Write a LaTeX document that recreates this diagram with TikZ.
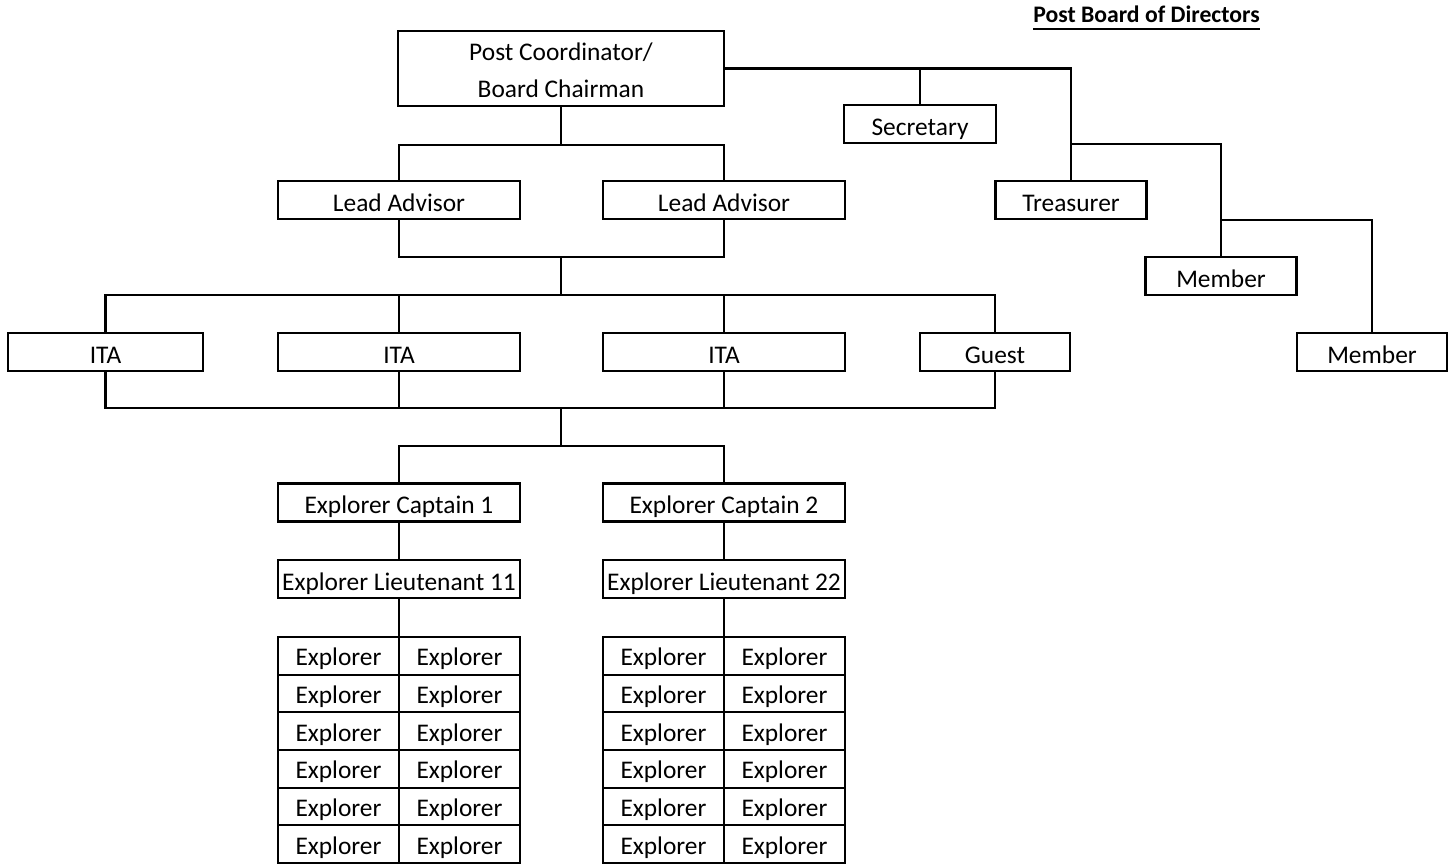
\documentclass[tikz,border=0pt]{standalone}
\usepackage{fontspec}
\setmainfont{Carlito}
\begin{document}
\begin{tikzpicture}[x=1pt,y=-1pt,
  every node/.style={font=\fontsize{25.4}{30}\selectfont},
  box/.style={draw=black,line width=2.2pt,inner sep=0pt,text height=24pt,text depth=2pt,minimum height=38pt},
  cell/.style={draw=black,line width=2.2pt,inner sep=0pt,text height=22pt,text depth=2pt,minimum height=37.67pt,minimum width=121pt},
  conn/.style={line width=2.2pt}]
\fill[white] (0,0) rectangle (1453,867);
\useasboundingbox (0,0) rectangle (1453,867);

% title
\node[font=\bfseries\fontsize{23.7}{28}\selectfont,inner sep=0pt,anchor=base] (title) at (1146.5,23) {Post Board of Directors};
\draw[line width=2.4pt] ([yshift=-6pt]title.base west) -- ([yshift=-6pt]title.base east);

% boxes
\node[draw=black,line width=2.2pt,inner sep=0pt,minimum width=326pt,minimum height=75pt,align=center,font=\fontsize{25.4}{37}\selectfont] (pc) at (561,68.5) {\rule{0pt}{22pt}Post Coordinator/\\Board Chairman};
\node[box,minimum width=152pt] (sec) at (920,124) {Secretary};
\node[box,minimum width=151pt] (tre) at (1071,200) {Treasurer};
\node[box,minimum width=151pt] (mem1) at (1221,276) {Member};
\node[box,minimum width=150pt] (mem2) at (1372,352) {Member};

\node[box,minimum width=242pt] (la1) at (399,200) {Lead Advisor};
\node[box,minimum width=242pt] (la2) at (724,200) {Lead Advisor};

\node[box,minimum width=195pt] (ita1) at (105.5,352) {ITA};
\node[box,minimum width=242pt] (ita2) at (399,352) {ITA};
\node[box,minimum width=242pt] (ita3) at (724,352) {ITA};
\node[box,minimum width=150pt] (guest) at (995,352) {Guest};

\node[box,minimum width=242pt] (cap1) at (399,502.5) {Explorer Captain 1};
\node[box,minimum width=242pt] (cap2) at (724,502.5) {Explorer Captain 2};
\node[box,minimum width=242pt] (lt1) at (399,579) {Explorer Lieutenant 11};
\node[box,minimum width=242pt] (lt2) at (724,579) {Explorer Lieutenant 22};

% explorer grids
\foreach \r in {1,...,6}{
  \node[cell] (gL-\r-1) at (338.5,{655.83+(\r-1)*37.67}) {Explorer};
  \node[cell] (gL-\r-2) at (459.5,{655.83+(\r-1)*37.67}) {Explorer};
  \node[cell] (gR-\r-1) at (663.5,{655.83+(\r-1)*37.67}) {Explorer};
  \node[cell] (gR-\r-2) at (784.5,{655.83+(\r-1)*37.67}) {Explorer};
}

% junctions
\coordinate (j1) at (561,145);
\coordinate (j2) at (561,257);
\coordinate (j3) at (561,295);
\coordinate (j4) at (561,408);
\coordinate (j5) at (561,446);

% connectors main tree
\draw[conn] (pc.south) -- (j1);
\draw[conn] (la1.north) |- (j1) -| (la2.north);
\draw[conn] (la1.south) |- (j2) -| (la2.south);
\draw[conn] (j2) -- (j3);
\draw[conn] (ita1.north) |- (j3) -| (guest.north);
\draw[conn] (ita2.north) -- (ita2.north |- j3);
\draw[conn] (ita3.north) -- (ita3.north |- j3);
\draw[conn] (ita1.south) |- (j4) -| (guest.south);
\draw[conn] (ita2.south) -- (ita2.south |- j4);
\draw[conn] (ita3.south) -- (ita3.south |- j4);
\draw[conn] (j4) -- (j5);
\draw[conn] (cap1.north) |- (j5) -| (cap2.north);
\draw[conn] (cap1.south) -- (lt1.north);
\draw[conn] (cap2.south) -- (lt2.north);
\draw[conn] (lt1.south) -- (lt1.south |- gL-1-1.north);
\draw[conn] (lt2.south) -- (lt2.south |- gR-1-1.north);

% board of directors
\draw[conn] (pc.east) -| (tre.north);
\draw[conn] (sec.north) -- (sec.north |- pc.east);
\coordinate (b2) at (tre.north |- sec.south);
\draw[conn] (b2) -| (mem1.north);
\coordinate (b3) at (mem1.north |- tre.south);
\draw[conn] (b3) -| (mem2.north);
\end{tikzpicture}
\end{document}
